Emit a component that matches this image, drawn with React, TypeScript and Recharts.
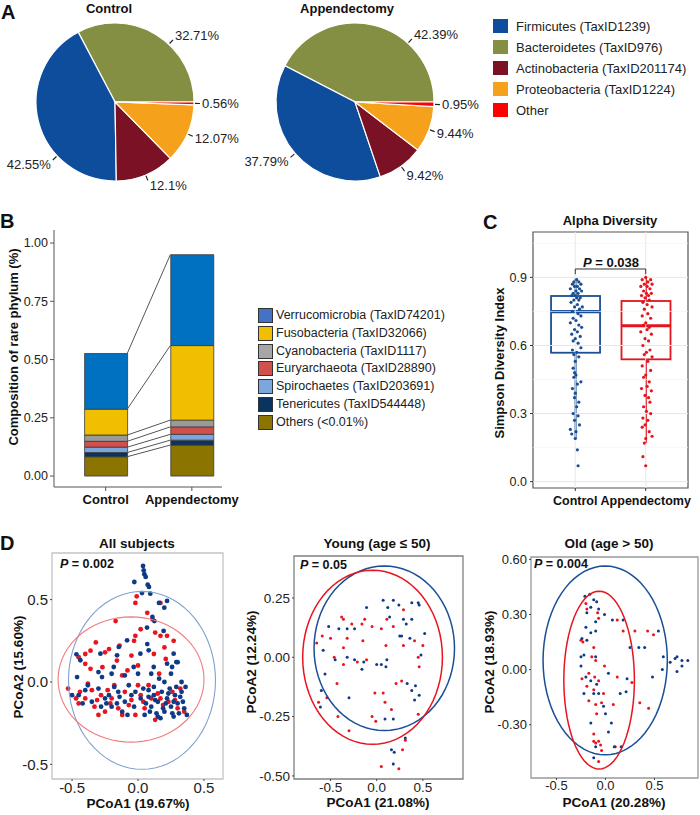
import React from "react";
import {
  PieChart, Pie, Cell, ComposedChart, ScatterChart, Bar, Scatter,
  XAxis, YAxis, ReferenceLine, ReferenceArea,
} from "recharts";

const FONT = "'Liberation Sans', Arial, Helvetica, sans-serif";

// ---- A: major phyla (legend order)
const majorPhyla = ["Firmicutes (TaxID1239)", "Bacteroidetes (TaxID976)", "Actinobacteria (TaxID201174)", "Proteobacteria (TaxID1224)", "Other"];
const majorColors = ["#0e4d9b", "#848f43", "#7a1124", "#f5a11c", "#fe0000"];
const controlPct = [42.55, 32.71, 12.1, 12.07, 0.56];
const appendPct = [37.79, 42.39, 9.42, 9.44, 0.95];
const pieOrder = [1, 0, 2, 3, 4]; // counterclockwise from 3 o'clock

// ---- B: rare phyla (legend order, top of stack first)
const rarePhyla = ["Verrucomicrobia (TaxID74201)", "Fusobacteria (TaxID32066)", "Cyanobacteria (TaxID1117)", "Euryarchaeota (TaxID28890)", "Spirochaetes (TaxID203691)", "Tenericutes (TaxID544448)", "Others (<0.01%)"];
const rareColors = ["#0071c1", "#f0bf00", "#9a9a9a", "#d0504c", "#7ba7dd", "#08345f", "#8c7400"];
const rareLegendColors = ["#4472c4", "#f0bf00", "#a6a6a6", "#d0504c", "#7ba7dd", "#08345f", "#8c7400"];
const rareControl = [0.239, 0.111, 0.027, 0.025, 0.023, 0.018, 0.083];
const rareAppend = [0.39, 0.32, 0.029, 0.032, 0.025, 0.021, 0.133];
const groups = ["Control", "Appendectomy"];

// ---- C: alpha diversity
const alphaColors = ["#1a4f95", "#e3141d"];
const alphaQ1 = [0.568, 0.539];
const alphaMedian = [0.749, 0.687];
const alphaQ3 = [0.818, 0.796];
const alphaLow = [0.188, 0.17];
const alphaHigh = [0.895, 0.9];
const controlAlpha = [
  [1.02, 0.89], [0.98, 0.88], [1.05, 0.88], [1.08, 0.87], [0.96, 0.87], [1.03, 0.86], [0.99, 0.86], [1.06, 0.85], [0.93, 0.85], [1.01, 0.84],
  [1.09, 0.84], [0.97, 0.83], [1.04, 0.83], [1.0, 0.82], [0.95, 0.82], [1.07, 0.81], [1.02, 0.81], [0.98, 0.8], [1.05, 0.8], [0.94, 0.79],
  [1.03, 0.78], [1.1, 0.77], [0.99, 0.77], [1.06, 0.76], [0.96, 0.75], [1.04, 0.74], [1.08, 0.73], [0.97, 0.72], [1.01, 0.71], [0.93, 0.7],
  [1.05, 0.69], [1.09, 0.68], [0.99, 0.67], [1.03, 0.66], [0.95, 0.65], [1.07, 0.64], [1.0, 0.63], [0.97, 0.62], [1.04, 0.61], [1.08, 0.59],
  [0.96, 0.58], [1.02, 0.57], [0.98, 0.56], [1.05, 0.55], [1.0, 0.53], [0.97, 0.5], [0.99, 0.48], [1.01, 0.47], [0.98, 0.46], [1.08, 0.44],
  [1.03, 0.43], [0.96, 0.41], [1.0, 0.39], [0.99, 0.37], [1.05, 0.35], [1.02, 0.33], [0.97, 0.3], [1.04, 0.29], [0.99, 0.27], [1.06, 0.25],
  [0.93, 0.23], [1.01, 0.22], [0.95, 0.21], [1.0, 0.19], [1.03, 0.14], [1.04, 0.07],
];
const appendAlpha = [
  [2.0, 0.9], [2.07, 0.89], [1.95, 0.89], [2.03, 0.88], [1.98, 0.87], [2.09, 0.87], [1.93, 0.86], [2.02, 0.86], [2.06, 0.85], [1.97, 0.84],
  [2.01, 0.83], [2.08, 0.83], [1.94, 0.82], [2.04, 0.82], [1.99, 0.81], [2.05, 0.8], [1.96, 0.79], [2.02, 0.78], [2.09, 0.77], [1.98, 0.76],
  [2.03, 0.74], [1.95, 0.73], [2.07, 0.72], [2.0, 0.7], [1.97, 0.69], [2.05, 0.68], [2.02, 0.67], [1.93, 0.66], [2.08, 0.65], [1.99, 0.63],
  [2.04, 0.62], [1.96, 0.6], [2.06, 0.58], [2.01, 0.57], [1.98, 0.56], [2.09, 0.55], [2.03, 0.53], [1.95, 0.51], [2.07, 0.49], [2.0, 0.47],
  [1.97, 0.46], [2.05, 0.44], [2.02, 0.42], [1.94, 0.41], [2.08, 0.4], [1.99, 0.38], [2.04, 0.37], [2.06, 0.35], [1.97, 0.33], [2.01, 0.31],
  [2.07, 0.3], [1.96, 0.28], [2.03, 0.27], [1.99, 0.25], [1.95, 0.24], [2.05, 0.22], [2.09, 0.2], [2.0, 0.19], [1.98, 0.17], [1.96, 0.11],
  [2.0, 0.07],
];

// ---- D: PCoA (blue = control, red = appendectomy)
const allBlue = [
  [0.038, 0.704], [0.043, 0.678], [0.048, 0.654], [0.058, 0.638], [-0.028, 0.607], [0.073, 0.591], [0.083, 0.577], [0.03, 0.54], [0.093, 0.536], [0.159, 0.48],
  [0.22, 0.492], [0.199, 0.451], [0.109, 0.395], [0.124, 0.37], [0.068, 0.33], [0.194, 0.31], [-0.083, 0.253], [-0.146, 0.213], [-0.159, 0.162], [-0.285, 0.172],
  [-0.467, 0.168], [-0.437, 0.132], [0.018, 0.172], [0.081, 0.192], [0.27, 0.172], [0.29, 0.121], [0.258, 0.091], [0.22, 0.111], [0.119, 0.091], [-0.033, 0.091],
  [-0.184, 0.091], [-0.273, 0.03], [-0.462, 0.03],
  [0.08, -0.05], [0.12, -0.08], [0.15, -0.12], [0.18, -0.06], [0.22, -0.1], [0.25, -0.15], [0.28, -0.08], [0.3, -0.13], [0.33, -0.06], [0.35, -0.16],
  [0.37, -0.2], [0.1, -0.15], [0.05, -0.2], [0.14, -0.19], [0.2, -0.18], [0.26, -0.19], [0.31, -0.19], [0.02, -0.1], [0.06, -0.13], [0.24, -0.04],
  [0.17, -0.22], [0.12, -0.03], [0.29, -0.03], [0.34, -0.12], [-0.02, -0.06], [0.09, -0.18], [0.21, -0.13], [0.32, -0.09], [0.04, -0.04], [0.27, -0.21],
  [-0.05, -0.08], [-0.1, -0.12], [-0.15, -0.06], [-0.2, -0.15], [-0.25, -0.1], [-0.3, -0.04], [-0.35, -0.12], [-0.4, -0.05], [-0.45, -0.08], [-0.5, -0.08],
  [-0.18, -0.03], [-0.12, -0.18], [-0.08, -0.2], [-0.28, -0.15], [-0.22, -0.08], [-0.03, -0.15], [-0.38, -0.02], [-0.42, -0.13], [-0.16, -0.13], [-0.07, -0.02],
  [0.0, 0.05], [0.1, 0.05], [0.25, 0.05], [0.3, 0.12], [-0.1, 0.04], [-0.2, 0.05], [-0.3, 0.06], [0.07, 0.23], [0.16, 0.02], [0.2, 0.0],
  [0.36, -0.03], [0.33, 0.0], [0.13, -0.11], [0.19, -0.16], [0.23, -0.07], [0.08, -0.09], [0.27, -0.12], [-0.14, -0.09], [-0.24, -0.13], [0.15, -0.21],
];
const allRed = [
  [-0.02, 0.48], [-0.01, 0.52], [0.07, 0.42], [0.11, 0.38], [0.17, 0.48], [0.13, 0.3], [0.17, 0.28], [0.22, 0.28], [-0.02, 0.28], [0.02, 0.32],
  [-0.17, 0.37], [-0.03, 0.25], [-0.05, 0.16], [-0.14, 0.22], [-0.22, 0.2], [-0.25, 0.18], [-0.32, 0.24], [-0.36, 0.19], [-0.45, 0.15], [-0.4, 0.17],
  [0.2, 0.21], [0.27, 0.25], [0.12, 0.17], [0.21, 0.14], [0.16, 0.05], [0.0, 0.1], [-0.08, 0.07], [-0.16, 0.13], [-0.12, 0.04], [-0.27, 0.09],
  [-0.36, 0.08], [-0.4, 0.11],
  [-0.53, -0.04], [-0.47, -0.1], [-0.44, -0.06], [-0.4, -0.1], [-0.35, -0.05], [-0.33, -0.15], [-0.28, -0.08], [-0.25, -0.18], [-0.2, -0.1], [-0.18, -0.02],
  [-0.15, -0.16], [-0.1, -0.06], [-0.07, -0.14], [-0.02, -0.2], [0.02, -0.08], [0.05, -0.16], [0.08, -0.02], [0.1, -0.1], [0.13, -0.23], [0.15, -0.07],
  [0.19, -0.14], [0.23, -0.12], [0.26, -0.06], [0.3, -0.16], [0.32, -0.04], [-0.23, -0.05], [-0.3, -0.2], [-0.12, -0.2], [0.0, -0.02], [0.35, -0.18],
  [-0.45, -0.13], [-0.38, -0.01], [-0.31, -0.11], [-0.21, -0.13], [-0.05, -0.11], [0.04, -0.12], [0.17, -0.1], [0.28, -0.11],
];
const youngBlue = [
  [0.07, 0.24], [0.18, 0.24], [0.24, 0.22], [0.38, 0.23], [0.45, 0.23], [0.46, 0.22], [0.12, 0.21], [-0.11, 0.21], [0.14, 0.17], [0.29, 0.16],
  [0.32, 0.14], [0.38, 0.16], [-0.52, 0.13], [-0.41, 0.12], [-0.32, 0.12], [-0.24, 0.12], [0.25, 0.09], [0.27, 0.09], [0.36, 0.08], [0.52, 0.1],
  [-0.58, 0.03], [-0.45, -0.01], [-0.32, 0.0], [-0.24, -0.01], [-0.14, -0.02], [-0.16, -0.05], [0.0, -0.03], [0.05, -0.03], [0.11, -0.01], [0.1, -0.04],
  [0.48, 0.01], [-0.56, -0.07], [-0.6, -0.14], [-0.61, -0.21], [-0.3, -0.17], [0.33, -0.11], [0.38, -0.14], [0.42, -0.12], [0.41, -0.18], [0.46, -0.16],
  [0.18, -0.26], [0.09, -0.26], [0.31, -0.34], [0.16, -0.39], [0.19, -0.4], [0.18, -0.45],
];
const youngRed = [
  [0.29, 0.2], [0.11, 0.16], [0.18, 0.13], [-0.38, 0.17], [-0.36, 0.16], [-0.27, 0.14], [-0.16, 0.14], [-0.05, 0.13], [0.05, 0.12], [-0.13, 0.16],
  [-0.59, 0.09], [-0.5, 0.08], [-0.65, 0.06], [-0.32, 0.08], [-0.15, 0.07], [-0.36, 0.04], [0.1, 0.05], [0.29, 0.05], [0.41, 0.07], [0.5, 0.05],
  [0.45, 0.0], [-0.46, 0.0], [-0.36, -0.03], [-0.21, -0.02], [-0.11, -0.01], [0.46, -0.04], [-0.43, -0.11], [-0.63, -0.19], [-0.54, -0.17], [-0.02, -0.15],
  [0.09, -0.19], [0.16, -0.22], [0.07, -0.15], [0.21, -0.11], [0.27, -0.1], [-0.42, -0.25], [-0.05, -0.25], [-0.01, -0.27], [-0.3, -0.31], [0.28, -0.39],
  [0.05, -0.46], [0.24, -0.47], [0.45, -0.24], [0.31, -0.35],
];
const oldBlue = [
  [-0.16, 0.41], [-0.12, 0.38], [-0.09, 0.37], [-0.21, 0.4], [-0.15, 0.34], [-0.07, 0.33], [-0.19, 0.31], [-0.01, 0.3], [0.07, 0.27], [0.18, 0.27],
  [-0.1, 0.26], [-0.2, 0.23], [-0.15, 0.2], [-0.24, 0.17], [-0.19, 0.16], [-0.1, 0.21], [0.25, 0.12], [0.34, 0.12], [0.4, 0.12], [0.54, 0.21],
  [0.59, 0.07], [0.66, 0.04], [0.71, 0.06], [0.73, 0.07], [0.78, 0.05], [0.84, 0.05], [0.78, 0.02], [0.73, -0.01], [0.58, 0.0], [0.48, -0.04],
  [-0.25, 0.07], [-0.22, 0.08], [-0.1, 0.07], [0.03, -0.02], [-0.25, 0.02], [-0.2, -0.04], [-0.15, -0.06], [-0.09, -0.08], [-0.12, -0.13], [-0.07, -0.13],
  [-0.22, -0.13], [0.15, -0.13], [0.21, -0.12], [0.22, -0.05], [-0.02, -0.2], [0.0, -0.24], [-0.15, -0.29], [0.06, -0.29], [0.03, -0.34], [0.09, -0.42],
  [0.16, -0.42], [-0.1, -0.42], [-0.12, -0.48],
];
const oldRed = [
  [-0.2, 0.36], [-0.19, 0.33], [-0.08, 0.31], [-0.07, 0.28], [0.12, 0.27], [0.18, 0.21], [0.3, 0.21], [0.43, 0.21], [0.49, 0.19], [-0.25, 0.16],
  [-0.23, 0.15], [-0.12, 0.12], [-0.14, 0.07], [-0.1, 0.05], [-0.01, 0.02], [-0.17, -0.02], [-0.24, -0.05], [-0.11, -0.04], [-0.07, -0.06], [0.12, -0.04],
  [0.27, -0.07], [-0.19, -0.09], [-0.12, -0.11], [-0.02, -0.13], [-0.17, -0.17], [-0.1, -0.19], [-0.04, -0.18], [0.08, -0.19], [0.35, -0.18], [0.44, -0.21],
  [-0.09, -0.24], [-0.12, -0.35], [-0.07, -0.39], [-0.12, -0.39], [-0.1, -0.4], [-0.05, -0.41], [0.1, -0.42], [-0.07, -0.5], [-0.04, -0.44],
];
// ellipse [cx, cy, rx, ry]
const allEllipses = { blue: [0.03, 0.01, 0.557, 0.54], red: [-0.053, 0.015, 0.553, 0.38] };
const youngEllipses = { blue: [0.082, 0.038, 0.761, 0.347], red: [-0.045, 0.0, 0.757, 0.367] };
const oldEllipses = { blue: [-0.003, 0.05, 0.634, 0.514], red: [-0.065, -0.057, 0.36, 0.484] };

const ellipsePts = ([cx, cy, rx, ry]: number[]) =>
  Array.from({ length: 73 }, (_, k) => {
    const t = (k * 5 * Math.PI) / 180;
    return { x: cx + rx * Math.cos(t), y: cy + ry * Math.sin(t) };
  });
const toXY = (pts: number[][]) => pts.map(([x, y]) => ({ x, y }));
const dot = (color: string, r: number) => (p: any) => <circle cx={p.cx} cy={p.cy} r={r} fill={color} />;
const noShape = () => <g />;

function Txt({ x, y, size = 13, bold, align = "center", rotate, color = "#111", children }: any) {
  const tx = align === "center" ? "-50%" : align === "right" ? "-100%" : "0";
  return (
    <div style={{
      position: "absolute", left: x, top: y, transform: `translate(${tx}, -50%)${rotate ? " rotate(-90deg)" : ""}`,
      fontSize: size, fontWeight: bold ? 700 : 400, color, whiteSpace: "nowrap", lineHeight: 1, fontFamily: FONT,
    }}>{children}</div>
  );
}

const makePieLabel = (angleOverride: Record<number, number>) => (p: any) => {
  const ang = angleOverride[p.index] ?? p.midAngle;
  const rad = Math.PI / 180;
  const c = Math.cos(-ang * rad), s = Math.sin(-ang * rad);
  const x1 = p.cx + (p.outerRadius + 1) * c, y1 = p.cy + (p.outerRadius + 1) * s;
  const x2 = p.cx + (p.outerRadius + 6) * c, y2 = p.cy + (p.outerRadius + 6) * s;
  return (
    <g>
      <line x1={x1} y1={y1} x2={x2} y2={y2} stroke="#222" strokeWidth={1.2} />
      <text x={x2 + (c >= 0 ? 2 : -2)} y={y2 + s * 6} textAnchor={c >= 0 ? "start" : "end"} dominantBaseline="central"
        fontSize={13} fill="#222" fontFamily={FONT}>{p.value}%</text>
    </g>
  );
};

function PiePanel() {
  const build = (pct: number[]) => pieOrder.map((i) => ({ name: majorPhyla[i], value: pct[i], color: majorColors[i] }));
  const cData = build(controlPct);
  const aData = build(appendPct);
  return (
    <PieChart width={490} height={200}>
      <Pie data={cData} dataKey="value" cx={110} cy={97} outerRadius={79} startAngle={0} endAngle={360}
        stroke="#fff" strokeWidth={1.2} labelLine={false} label={makePieLabel({ 0: 47, 1: 223 })} isAnimationActive={false}>
        {cData.map((d) => <Cell key={d.name} fill={d.color} />)}
      </Pie>
      <Pie data={aData} dataKey="value" cx={350} cy={97} outerRadius={79} startAngle={0} endAngle={360}
        stroke="#fff" strokeWidth={1.2} labelLine={false} label={makePieLabel({ 0: 48 })} isAnimationActive={false}>
        {aData.map((d) => <Cell key={d.name} fill={d.color} />)}
      </Pie>
    </PieChart>
  );
}

function RarePanel() {
  const rows = [rareControl, rareAppend].map((vals, g) => {
    const row: any = { pos: g + 1 };
    vals.forEach((v, i) => (row[`k${i}`] = v));
    return row;
  });
  const cum = (vals: number[]) => {
    const out: number[] = [];
    let s = 0;
    for (let i = vals.length - 1; i >= 0; i--) { s += vals[i]; out.push(s); }
    return out;
  };
  const cc = cum(rareControl), ca = cum(rareAppend);
  return (
    <ComposedChart width={245} height={330} data={rows} margin={{ top: 40, right: 23, bottom: 3, left: 0 }}>
      <XAxis type="number" dataKey="pos" domain={[0.4, 2.35]} ticks={[1, 2]} allowDataOverflow height={30}
        tickFormatter={(v) => groups[v - 1]} tickSize={4} tickMargin={4} stroke="#555"
        tick={{ fontSize: 13, fontWeight: 700, fill: "#111", fontFamily: FONT }} />
      <YAxis type="number" domain={[-0.047, 1.056]} ticks={[0, 0.25, 0.5, 0.75, 1]} allowDataOverflow width={54}
        tickFormatter={(v) => v.toFixed(2)} tickSize={4} tickMargin={2} stroke="#555"
        tick={{ fontSize: 12.5, fill: "#222", fontFamily: FONT }} />
      {rarePhyla.map((_, j) => {
        const i = rarePhyla.length - 1 - j;
        return <Bar key={i} dataKey={`k${i}`} stackId="s" fill={rareColors[i]} stroke="#3a3a3a" strokeWidth={0.8}
          barSize={43} isAnimationActive={false} />;
      })}
      {cc.map((v, i) => (
        <ReferenceLine key={i} segment={[{ x: 1.25, y: v }, { x: 1.75, y: ca[i] }]} stroke="#555" strokeWidth={1} ifOverflow="visible" />
      ))}
    </ComposedChart>
  );
}

const BoxShape = (p: any) => {
  const { x, width, payload } = p;
  const top = Math.min(p.y, p.y + p.height);
  const h = Math.abs(p.height);
  const bottom = top + h;
  const color = alphaColors[payload.pos - 1];
  const ppu = h / (payload.q3 - payload.q1);
  const yOf = (v: number) => bottom - (v - payload.q1) * ppu;
  const cx = x + width / 2;
  return (
    <g>
      <line x1={cx} x2={cx} y1={yOf(payload.hi)} y2={top} stroke={color} strokeWidth={2} />
      <line x1={cx} x2={cx} y1={bottom} y2={yOf(payload.lo)} stroke={color} strokeWidth={2} />
      <rect x={x} y={top} width={width} height={h} fill="none" stroke={color} strokeWidth={1.8} />
      <line x1={x} x2={x + width} y1={yOf(payload.med)} y2={yOf(payload.med)} stroke={color} strokeWidth={3.2} />
    </g>
  );
};

function AlphaPanel() {
  const rows = groups.map((_, i) => ({ pos: i + 1, q1: alphaQ1[i], med: alphaMedian[i], q3: alphaQ3[i], lo: alphaLow[i], hi: alphaHigh[i] }));
  const yDom: [number, number] = [-0.028, 1.1];
  return (
    <ComposedChart width={280} height={330} data={rows} margin={{ top: 42, right: 12, bottom: 2, left: 0 }}>
      <XAxis type="number" dataKey="pos" domain={[0.4, 2.6]} ticks={[1, 2]} allowDataOverflow height={30}
        tickFormatter={(v) => groups[v - 1]} axisLine={false} tickSize={3} tickMargin={5} tickLine={{ stroke: "#333" }}
        tick={{ fontSize: 12.5, fontWeight: 700, fill: "#111", fontFamily: FONT }} />
      <XAxis xAxisId="box" type="number" dataKey="pos" domain={[0.4, 2.6]} allowDataOverflow hide />
      <YAxis type="number" domain={yDom} ticks={[0, 0.3, 0.6, 0.9]} allowDataOverflow width={113}
        tickFormatter={(v) => v.toFixed(1)} axisLine={false} tickSize={3} tickMargin={3} tickLine={{ stroke: "#333" }}
        tick={{ fontSize: 12.5, fill: "#222", fontFamily: FONT }} />
      {[0.15, 0.45, 0.75, 1.05].map((v) => <ReferenceLine key={`m${v}`} y={v} stroke="#f3f3f3" strokeWidth={0.7} />)}
      {[0, 0.3, 0.6, 0.9].map((v) => <ReferenceLine key={`M${v}`} y={v} stroke="#e6e6e6" strokeWidth={1} />)}
      {[1, 2].map((v) => <ReferenceLine key={`v${v}`} x={v} stroke="#e9e9e9" strokeWidth={1} />)}
      <ReferenceArea x1={0.4} x2={2.6} y1={yDom[0]} y2={yDom[1]} fill="none" fillOpacity={0} stroke="#555" strokeWidth={1.2} ifOverflow="visible" />
      <Bar xAxisId="box" dataKey={(d: any) => [d.q1, d.q3]} barSize={49} shape={BoxShape} isAnimationActive={false} />
      <Scatter data={controlAlpha.map(([x, y]) => ({ pos: x, v: y }))} dataKey="v" shape={dot(alphaColors[0], 1.6)} isAnimationActive={false} />
      <Scatter data={appendAlpha.map(([x, y]) => ({ pos: x, v: y }))} dataKey="v" shape={dot(alphaColors[1], 1.6)} isAnimationActive={false} />
      <ReferenceLine segment={[{ x: 1, y: 0.937 }, { x: 2, y: 0.937 }]} stroke="#333" strokeWidth={1} />
      <ReferenceLine segment={[{ x: 1, y: 0.937 }, { x: 1, y: 0.914 }]} stroke="#333" strokeWidth={1} />
      <ReferenceLine segment={[{ x: 2, y: 0.937 }, { x: 2, y: 0.914 }]} stroke="#333" strokeWidth={1} />
    </ComposedChart>
  );
}

function PcoaPanel(props: any) {
  const { width, yAxisWidth, margin, xDomain, yDomain, xTicks, yTicks, yDigits, blue, red, ellipses, r, fontSize, border, ellipseBlue, ellipseRed, ellipseWidth } = props;
  const tickStyle = { fontSize, fill: "#222", fontFamily: FONT };
  return (
    <ScatterChart width={width} height={295} margin={margin}>
      <XAxis type="number" dataKey="x" domain={xDomain} ticks={xTicks} allowDataOverflow height={30}
        tickFormatter={(v) => v.toFixed(1)} axisLine={false} tickSize={2} tickMargin={1} tickLine={{ stroke: "#444" }} tick={tickStyle} />
      <YAxis type="number" dataKey="y" domain={yDomain} ticks={yTicks} allowDataOverflow width={yAxisWidth}
        tickFormatter={(v) => v.toFixed(yDigits)} axisLine={false} tickSize={2} tickMargin={2} tickLine={{ stroke: "#444" }} tick={tickStyle} />
      <ReferenceArea x1={xDomain[0]} x2={xDomain[1]} y1={yDomain[0]} y2={yDomain[1]} fill="none" fillOpacity={0}
        stroke={border} strokeWidth={1.3} ifOverflow="visible" />
      <Scatter data={toXY(red)} shape={dot("#e8141e", r)} isAnimationActive={false} />
      <Scatter data={toXY(blue)} shape={dot("#0d3b87", r)} isAnimationActive={false} />
      <Scatter data={ellipsePts(ellipses.blue)} line={{ stroke: ellipseBlue, strokeWidth: ellipseWidth }} shape={noShape} isAnimationActive={false} />
      <Scatter data={ellipsePts(ellipses.red)} line={{ stroke: ellipseRed, strokeWidth: ellipseWidth }} shape={noShape} isAnimationActive={false} />
    </ScatterChart>
  );
}

const P = ({ value }: { value: string }) => (<span><i>P</i> = {value}</span>);

export default function App() {
  const abs = (left: number, top: number): React.CSSProperties => ({ position: "absolute", left, top });
  return (
    <div style={{ position: "absolute", left: 0, top: 0, width: 700, height: 815, background: "#fff", fontFamily: FONT, overflow: "hidden" }}>
      {/* A */}
      <div style={abs(0, 0)}><PiePanel /></div>
      <Txt x={1} y={12} size={20} bold align="left">A</Txt>
      <Txt x={109} y={8} bold>Control</Txt>
      <Txt x={347} y={8} bold>Appendectomy</Txt>
      {majorPhyla.map((name, i) => (
        <React.Fragment key={name}>
          <div style={{ position: "absolute", left: 493, top: 26 + i * 21 - 7, width: 15, height: 14, background: majorColors[i] }} />
          <Txt x={516} y={26 + i * 21} align="left" color="#222">{name}</Txt>
        </React.Fragment>
      ))}

      {/* B */}
      <div style={abs(0, 190)}><RarePanel /></div>
      <Txt x={0} y={221} size={20} bold align="left">B</Txt>
      <Txt x={13} y={347} bold rotate>Composition of rare phylum (%)</Txt>
      {rarePhyla.map((name, i) => (
        <React.Fragment key={name}>
          <div style={{ position: "absolute", left: 258, top: 315 + i * 17.8 - 7, width: 13, height: 13, background: rareLegendColors[i], border: "0.8px solid #333" }} />
          <Txt x={276} y={315 + i * 17.8} size={12.5} align="left" color="#222">{name}</Txt>
        </React.Fragment>
      ))}

      {/* C */}
      <div style={abs(420, 190)}><AlphaPanel /></div>
      <Txt x={483} y={222} size={20} bold align="left">C</Txt>
      <Txt x={610} y={220} bold>Alpha Diversity</Txt>
      <Txt x={499} y={363} bold rotate>Simpson Diversity Index</Txt>
      <Txt x={611} y={262} bold><P value="0.038" /></Txt>

      {/* D */}
      <div style={abs(0, 520)}>
        <PcoaPanel width={235} yAxisWidth={52} margin={{ top: 33, right: 12, bottom: 6, left: 0 }}
          xDomain={[-0.652, 0.644]} yDomain={[-0.589, 0.783]} xTicks={[-0.5, 0, 0.5]} yTicks={[-0.5, 0, 0.5]} yDigits={1}
          blue={allBlue} red={allRed} ellipses={allEllipses} r={2.4} fontSize={15} border="#c4c4c4"
          ellipseBlue="#7fa2cf" ellipseRed="#f07c7c" ellipseWidth={1.1} />
      </div>
      <div style={abs(230, 520)}>
        <PcoaPanel width={240} yAxisWidth={64} margin={{ top: 36, right: 7, bottom: 6, left: 0 }}
          xDomain={[-0.896, 0.935]} yDomain={[-0.513, 0.427]} xTicks={[-0.5, 0, 0.5]} yTicks={[-0.5, -0.25, 0, 0.25]} yDigits={2}
          blue={youngBlue} red={youngRed} ellipses={youngEllipses} r={1.5} fontSize={13.5} border="#808080"
          ellipseBlue="#1b4f96" ellipseRed="#e8141e" ellipseWidth={1.5} />
      </div>
      <div style={abs(460, 520)}>
        <PcoaPanel width={240} yAxisWidth={71} margin={{ top: 37, right: 2, bottom: 7, left: 0 }}
          xDomain={[-0.76, 0.944]} yDomain={[-0.59, 0.613]} xTicks={[-0.5, 0, 0.5]} yTicks={[-0.3, 0, 0.3, 0.6]} yDigits={2}
          blue={oldBlue} red={oldRed} ellipses={oldEllipses} r={1.5} fontSize={13} border="#999"
          ellipseBlue="#1b4f96" ellipseRed="#e8141e" ellipseWidth={1.5} />
      </div>
      <Txt x={0} y={543} size={20} bold align="left">D</Txt>
      <Txt x={137} y={544} bold size={13.5}>All subjects</Txt>
      <Txt x={377} y={544} bold size={13.5}>Young (age ≤ 50)</Txt>
      <Txt x={609} y={544} bold size={13.5}>Old (age &gt; 50)</Txt>
      <Txt x={60} y={564} bold size={12.5} align="left"><P value="0.002" /></Txt>
      <Txt x={300} y={565} bold size={12.5} align="left"><P value="0.05" /></Txt>
      <Txt x={534} y={564} bold size={12.5} align="left"><P value="0.004" /></Txt>
      <Txt x={138} y={804} bold size={13.5}>PCoA1 (19.67%)</Txt>
      <Txt x={378} y={803} bold size={13.5}>PCoA1 (21.08%)</Txt>
      <Txt x={614} y={803} bold size={13.5}>PCoA1 (20.28%)</Txt>
      <Txt x={19} y={667} bold size={13.5} rotate>PCoA2 (15.60%)</Txt>
      <Txt x={252} y={662} bold size={13.5} rotate>PCoA2 (12.24%)</Txt>
      <Txt x={490} y={662} bold size={13.5} rotate>PCoA2 (18.93%)</Txt>
    </div>
  );
}
